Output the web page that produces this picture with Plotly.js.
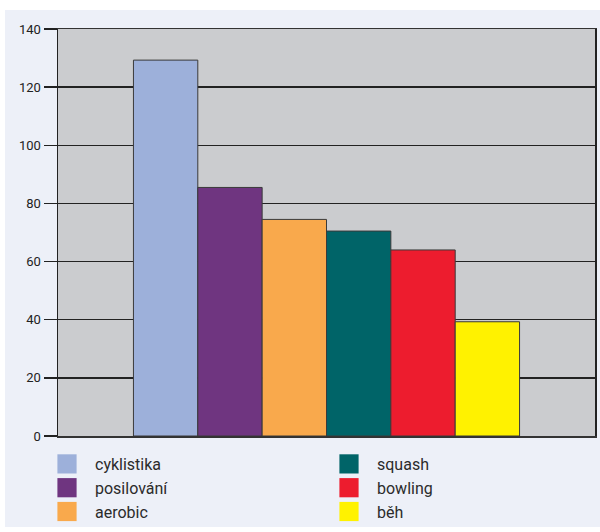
<!DOCTYPE html>
<html><head><meta charset="utf-8">
<script src="https://cdn.plot.ly/plotly-3.0.1.min.js"></script>
<style>
html,body{margin:0;padding:0;background:#ffffff;width:600px;height:532px;overflow:hidden;}
#chart{position:absolute;left:5px;top:10px;width:595px;height:517px;}
</style></head>
<body><div id="chart"></div>
<script>
const categories = ["cyklistika", "posilování", "aerobic", "squash", "bowling", "běh"];
const values = [129.3, 85.5, 74.5, 70.5, 64, 39.3];
const colors = ["#9db0da", "#6f3580", "#f9a94c", "#006468", "#ed1c2e", "#fff200"];
const yTicks = [0, 20, 40, 60, 80, 100, 120, 140];
const legendGroup = ["legend", "legend", "legend", "legend2", "legend2", "legend2"];

const traces = categories.map((c, i) => ({
  type: "bar",
  name: c,
  x: [""],
  y: [values[i]],
  marker: {color: colors[i], line: {color: "#3a3a3a", width: 1}},
  legend: legendGroup[i],
  hoverinfo: "skip"
}));

const legendStyle = {
  font: {family: "Roboto, 'Open Sans', sans-serif", size: 16, color: "#2b2b2b"},
  bgcolor: "rgba(0,0,0,0)",
  orientation: "v",
  xref: "container", yref: "container",
  xanchor: "left", yanchor: "top",
  tracegroupgap: 0,
  itemclick: false, itemdoubleclick: false
};

const layout = {
  width: 595, height: 517,
  margin: {l: 53, r: 5, t: 19, b: 91, autoexpand: false},
  paper_bgcolor: "#edf0f8",
  plot_bgcolor: "#cbcccf",
  font: {family: "Roboto, 'Open Sans', sans-serif", color: "#222"},
  barmode: "group",
  bargap: 0.281,
  bargroupgap: 0,
  showlegend: true,
  legend: Object.assign({}, legendStyle, {x: 50/595, y: 1 - 437/517}),
  legend2: Object.assign({}, legendStyle, {x: 332/595, y: 1 - 437/517}),
  xaxis: {
    type: "category",
    showticklabels: false,
    ticks: "",
    showgrid: false,
    showline: true, linecolor: "#333", linewidth: 1.5, mirror: true,
    fixedrange: true
  },
  yaxis: {
    range: [0, 140],
    tickvals: yTicks,
    ticktext: yTicks.map(String),
    ticks: "outside", ticklen: 13, tickwidth: 1.3, tickcolor: "#222",
    showgrid: true, gridcolor: "#222", gridwidth: 1.3,
    zeroline: false,
    showline: true, linecolor: "#222", linewidth: 1.5, mirror: true,
    tickfont: {size: 13, color: "#222"},
    fixedrange: true
  }
};

Plotly.newPlot("chart", traces, layout, {displayModeBar: false, staticPlot: true}).then(() => {
  document.querySelectorAll(".legendpoints path").forEach(p => {
    const t = p.getAttribute("transform") || "";
    p.setAttribute("transform", t + " translate(-8,0) scale(1.6)");
    p.style.strokeWidth = "0px";
  });
});
</script></body></html>
